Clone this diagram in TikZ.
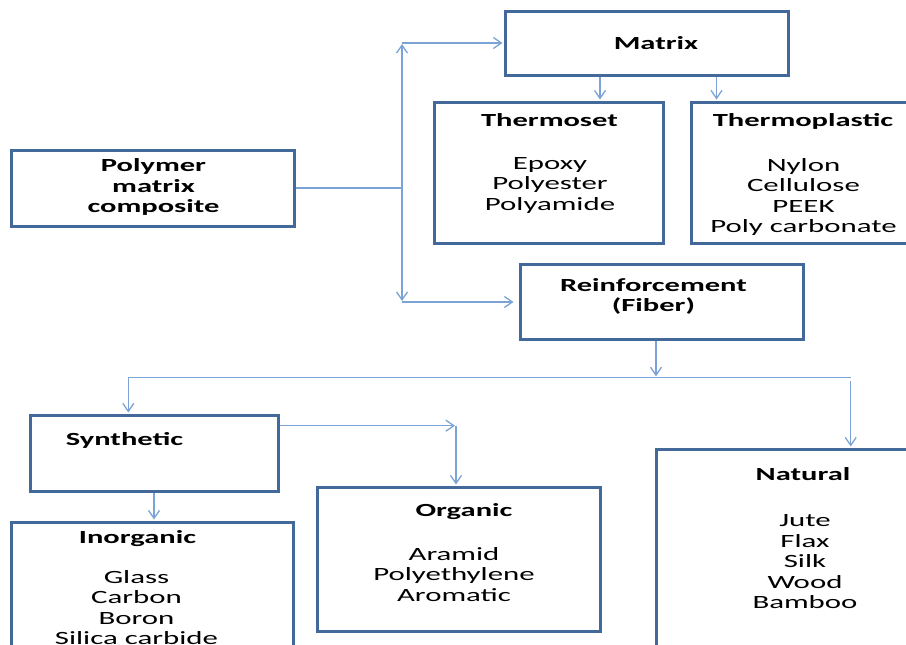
\documentclass[tikz,border=0pt]{standalone}
\usepackage{fontspec}
\setmainfont{Carlito}[FakeStretch=1.65]
\usetikzlibrary{arrows.meta}
\definecolor{boxline}{HTML}{43699B}
\definecolor{connline}{HTML}{7BA3D6}
\newcommand{\lines}[1]{\begin{tabular}[t]{@{}c@{}}#1\end{tabular}}
\tikzset{
  box/.style={draw=boxline, line width=3pt, fill=white, inner sep=0pt},
  conn/.style={draw=connline, line width=1.3pt},
  arr/.style={conn, -{Straight Barb[length=8pt,width=11pt,line width=1.3pt]}, shorten >=1pt},
  head/.style={anchor=base, inner sep=0pt, font=\fontsize{18.5}{20.5}\selectfont\bfseries},
  body/.style={anchor=base, inner sep=0pt, font=\fontsize{18.7}{20.5}\selectfont},
}
\begin{document}
\begin{tikzpicture}[x=1pt, y=-1pt]
\useasboundingbox (0,0) rectangle (906,645);
\clip (0,0) rectangle (906,645);

% boxes
\node[box, minimum width=283pt, minimum height=64pt]  (matrix)  at (646.5,43)   {};
\node[box, minimum width=229pt, minimum height=141pt] (tset)    at (548.5,172.5) {};
\node[box, minimum width=239pt, minimum height=141pt] (tplast)  at (810.5,172.5) {};
\node[box, minimum width=283pt, minimum height=76pt]  (pmc)     at (152.5,188)  {};
\node[box, minimum width=283pt, minimum height=75pt]  (reinf)   at (661.5,301.5) {};
\node[box, minimum width=248pt, minimum height=76pt]  (synth)   at (154,453)    {};
\node[box, minimum width=282pt, minimum height=158pt] (inorg)   at (152,601)    {};
\node[box, minimum width=283pt, minimum height=144pt] (organic) at (458.5,559)  {};
\node[box, minimum width=274pt, minimum height=231pt] (natural) at (793,564.5)  {};

% labels
\node[head] (matrix-t) at (656,49) {Matrix};
\node[head] (tset-t) at (549.5,126.7) {Thermoset};
\node[body] (tset-b) at (550,169) {\lines{Epoxy\\Polyester\\Polyamide}};
\node[head] (tplast-t) at (803,126) {Thermoplastic};
\node[body] (tplast-b) at (803.5,171) {\lines{Nylon\\Cellulose\\PEEK\\Poly carbonate}};
\node[head] (pmc-t) at (153.5,171.7) {\lines{Polymer\\matrix\\composite}};
\node[head] (reinf-t) at (653.5,291) {\lines{Reinforcement\\(Fiber)}};
\node[head] (synth-t) at (124.5,445) {Synthetic};
\node[head] (inorg-t) at (137.5,543.3) {Inorganic};
\node[body] (inorg-b) at (136.5,583) {\lines{Glass\\Carbon\\Boron\\Silica carbide}};
\node[head] (organic-t) at (464,516.7) {Organic};
\node[body] (organic-b) at (454,560) {\lines{Aramid\\Polyethylene\\Aromatic}};
\node[head] (natural-t) at (803,480.7) {Natural};
\node[body] (natural-b) at (805,526.7) {\lines{Jute\\Flax\\Silk\\Wood\\Bamboo}};

% routing points
\coordinate (jm) at (402,188);
\coordinate (jt) at (402,43);
\coordinate (jb) at (402,302);
\coordinate (xa) at (600,0);
\coordinate (xb) at (716.5,0);
\coordinate (xr) at (656,0);
\coordinate (busl) at (128.3,377.3);
\coordinate (busr) at (850.7,377.3);
\coordinate (busm) at (656,377.3);
\coordinate (natin) at (850.7,380.7);
\coordinate (so) at (456,425.7);

% connectors
\draw[conn] (pmc.east |- jm) -- (jm);
\draw[arr] (jm) -- (jt);
\draw[arr] (jm) -- (jb);
\draw[arr] (jt) -- (matrix.west |- jt);
\draw[arr, shorten >=5pt] (jb) -- (reinf.west |- jb);
\draw[arr] (matrix.south -| xa) -- (tset.north -| xa);
\draw[arr] (matrix.south -| xb) -- (tplast.north -| xb);
\draw[arr] (reinf.south -| xr) -- (busm);
\draw[conn] (busl) -- (busr);
\draw[arr] (busl) -- (synth.north -| busl);
\draw[arr] (natin) -- (natural.north -| natin);
\draw[arr] (synth.east |- so) -- (so);
\draw[arr] (so) -- (organic.north -| so);
\draw[arr] (synth.south) -- (synth.south |- inorg.north);
\end{tikzpicture}
\end{document}
